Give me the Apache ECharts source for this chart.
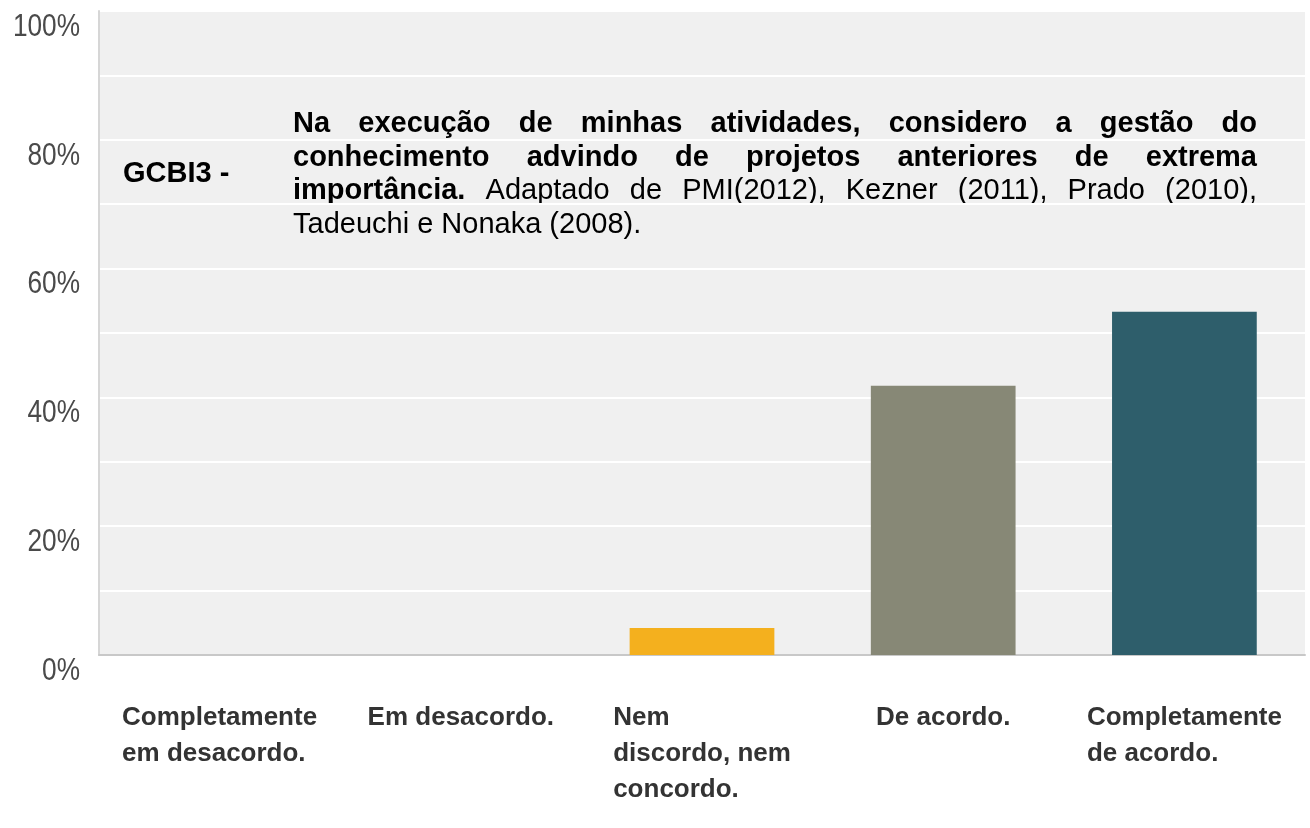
<!DOCTYPE html>
<html><head><meta charset="utf-8">
<script src="https://cdn.jsdelivr.net/npm/echarts@6/dist/echarts.min.js"></script>
<style>html,body{margin:0;padding:0;background:#fff}#c{width:1310px;height:828px}</style>
</head><body><div id="c"></div>
<script>
// ---- data ----
const categories = ['Completamente\nem desacordo.', 'Em desacordo.', 'Nem\ndiscordo, nem\nconcordo.', 'De acordo.', 'Completamente\nde acordo.'];
const values = [0, 0, 4.2, 41.8, 53.3];
const barColors = ['#b0b0a0', '#c0504d', '#f4b01e', '#878876', '#2e5e6b'];
const yTickLabels = [0, 20, 40, 60, 80, 100];
const titleCode = 'GCBI3 -';
const titleLines = [
  [{t: 'Na execução de minhas atividades, considero a gestão do', b: true}],
  [{t: 'conhecimento advindo de projetos anteriores de extrema', b: true}],
  [{t: 'importância.', b: true}, {t: 'Adaptado de PMI(2012), Kezner (2011), Prado (2010),', b: false}],
  [{t: 'Tadeuchi e Nonaka (2008).', b: false}]
];

// ---- annotation text (justified paragraph) ----
const FS = 29, FAM = '"Liberation Sans", Arial, sans-serif';
const PX0 = 293, PX1 = 1257, BASE0 = 133, LH = 33.7;
const cv = document.createElement('canvas');
const ctx = cv.getContext('2d');
function fontStr(b) { return (b ? 'bold ' : '') + FS + 'px ' + FAM; }
const graphics = [];
titleLines.forEach(function (segs, li) {
  const words = [];
  segs.forEach(function (s) { s.t.split(' ').forEach(function (w) { words.push({w: w, b: s.b}); }); });
  const widths = words.map(function (o) { ctx.font = fontStr(o.b); return ctx.measureText(o.w).width; });
  const total = widths.reduce(function (a, c) { return a + c; }, 0);
  ctx.font = fontStr(false);
  const justify = li < titleLines.length - 1;
  const gap = justify ? (PX1 - PX0 - total) / (words.length - 1) : ctx.measureText(' ').width;
  let x = PX0;
  words.forEach(function (o, i) {
    graphics.push({type: 'text', x: x, y: BASE0 + li * LH - 9,
      style: {text: o.w, font: fontStr(o.b), fill: '#000', align: 'left', verticalAlign: 'middle'}});
    x += widths[i] + gap;
  });
});
graphics.push({type: 'text', x: 123, y: 183 - 9,
  style: {text: titleCode, font: fontStr(true), fill: '#000', align: 'left', verticalAlign: 'middle'}});

const chart = echarts.init(document.getElementById('c'), null, {renderer: 'canvas'});
chart.setOption({
  animation: false,
  backgroundColor: '#ffffff',
  grid: {left: 99, right: 5, top: 11, bottom: 173, show: true, backgroundColor: '#f0f0f0', borderWidth: 0,
         containLabel: false, outerBoundsMode: 'none'},
  xAxis: {
    type: 'category', data: categories,
    axisLine: {show: true, lineStyle: {color: '#c8c8c8', width: 2}},
    axisTick: {show: false},
    splitLine: {show: false},
    axisLabel: {
      interval: 0, margin: 45, verticalAlign: 'top',
      formatter: function (v) { return v.split('\n').map(function (s) { return '{a|' + s + '}'; }).join('\n'); },
      rich: {a: {fontSize: 26, fontWeight: 'bold', fontFamily: FAM, color: '#333', lineHeight: 36, align: 'left'}}
    }
  },
  yAxis: {
    type: 'value', min: 0, max: 100, interval: 10,
    axisLine: {show: true, lineStyle: {color: '#d6d6d6', width: 2}},
    axisTick: {show: false},
    splitLine: {show: true, lineStyle: {color: '#ffffff', width: 2}},
    axisLabel: {show: false}
  },
  series: [{
    type: 'bar', barWidth: '60%',
    data: values.map(function (v, i) { return {value: v, itemStyle: {color: barColors[i]}}; })
  }],
  graphic: graphics
});

// y tick labels: condensed, placed through the axis scale
yTickLabels.forEach(function (v) {
  const py = chart.convertToPixel({yAxisIndex: 0}, v);
  graphics.push({type: 'text', x: 80, y: py + 16, scaleX: 0.82,
    style: {text: v + '%', font: '32px ' + FAM, fill: '#4a4a4a', align: 'right', verticalAlign: 'middle'}});
});
chart.setOption({graphic: graphics});
</script>
</body></html>
